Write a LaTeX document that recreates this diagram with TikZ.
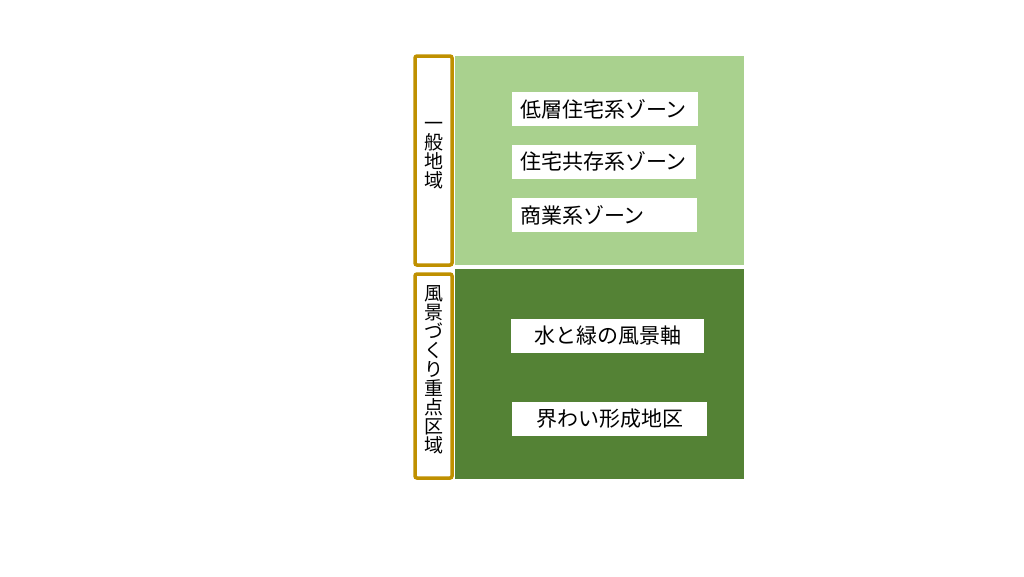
\documentclass[tikz,border=0pt]{standalone}
\usepackage{fontspec}
\newfontfamily\jp{Noto Sans CJK JP}
\definecolor{lightzone}{HTML}{A9D18E}
\definecolor{darkzone}{HTML}{548235}
\definecolor{goldline}{HTML}{BF9000}
\tikzset{
  zoneframe/.style={draw=goldline, line width=3.5pt, rounded corners=2pt, fill=white},
  zonetitle/.style={font=\jp\fontsize{19}{19}\selectfont, align=center, inner sep=0pt},
  zonebox/.style={fill=white, font=\jp\fontsize{21}{24}\selectfont, inner xsep=8pt, inner ysep=0pt, minimum height=34pt},
}
\begin{document}
\begin{tikzpicture}[x=1pt, y=-1pt]
    \useasboundingbox (0,0) rectangle (1024,576);

    \fill[lightzone] (455,56) rectangle (744,265);
    \fill[darkzone] (455,269) rectangle (744,479);

    \draw[zoneframe] (415,56) rectangle (452,265);
    \draw[zoneframe] (415,274) rectangle (452,478);
    \node[zonetitle] (general) at (434,156) {一\\般\\地\\域};
    \node[zonetitle] (scenic) at (434,370) {風\\景\\づ\\く\\り\\重\\点\\区\\域};

    \node[zonebox, text width=170pt, align=left] (lowres) at (605,109) {低層住宅系ゾーン};
    \node[zonebox, text width=168pt, align=left] (mixres) at (604,161.5) {住宅共存系ゾーン};
    \node[zonebox, text width=169pt, align=left] (commerce) at (604.5,215) {商業系ゾーン};

    \node[zonebox, text width=177pt, align=center] (axis) at (607.5,335.5) {水と緑の風景軸};
    \node[zonebox, text width=179pt, align=center] (bustle) at (609.5,418.5) {界わい形成地区};
\end{tikzpicture}
\end{document}
